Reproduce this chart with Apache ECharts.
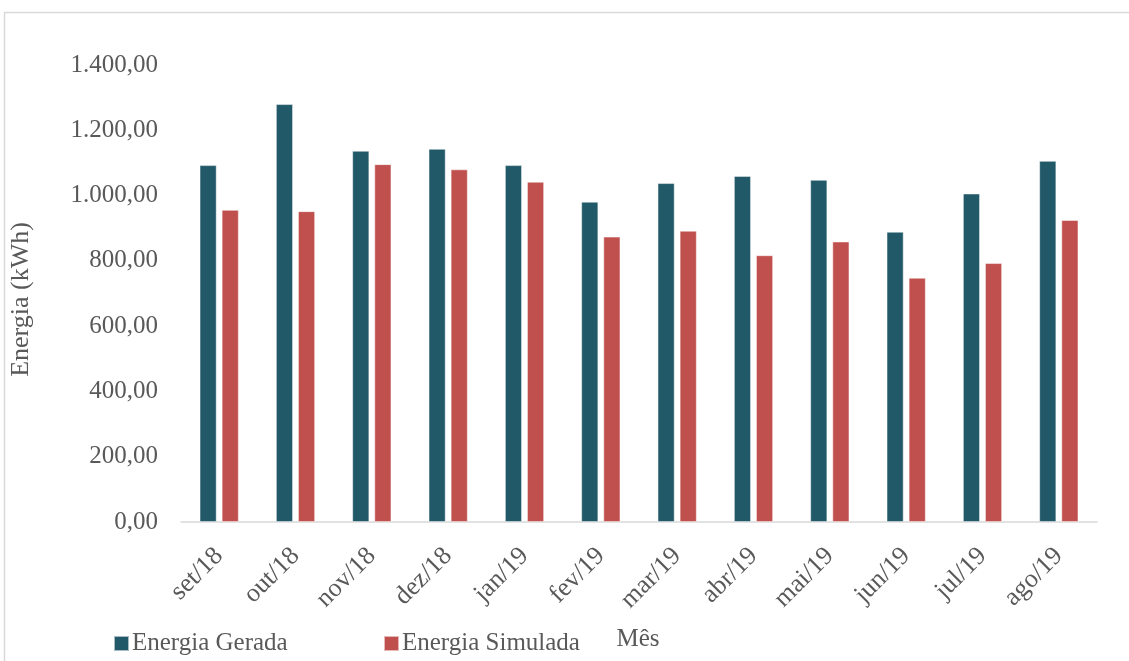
<!DOCTYPE html>
<html>
<head>
<meta charset="utf-8">
<script src="https://cdn.jsdelivr.net/npm/echarts@6/dist/echarts.min.js"></script>
<style>
  html, body { margin: 0; padding: 0; background: #ffffff; overflow: hidden; }
  #chart { width: 1129px; height: 661px; }
</style>
</head>
<body>
<div id="chart"></div>
<script>
// Monthly energy: generated vs simulated (kWh)
const months = ['set/18', 'out/18', 'nov/18', 'dez/18', 'jan/19', 'fev/19',
                'mar/19', 'abr/19', 'mai/19', 'jun/19', 'jul/19', 'ago/19'];
const energiaGerada   = [1093, 1280, 1137, 1143, 1093, 981, 1038, 1060, 1048, 889, 1006, 1106];
const energiaSimulada = [956, 952, 1096, 1080, 1042, 874, 892, 817, 859, 748, 793, 925];
const yTicks = { min: 0, max: 1400, interval: 200 };

const FONT = '"Liberation Serif", "DejaVu Serif", serif';
const TEXT = '#595959';

// pt-BR number format: 1.400,00
function fmt(v) {
  const parts = Number(v).toFixed(2).split('.');
  parts[0] = parts[0].replace(/\B(?=(\d{3})+(?!\d))/g, '.');
  return parts.join(',');
}

const chart = echarts.init(document.getElementById('chart'), null, { renderer: 'canvas' });

chart.setOption({
  backgroundColor: '#ffffff',
  animation: false,
  textStyle: { fontFamily: FONT, color: TEXT },
  graphic: [{
    type: 'rect',
    shape: { x: 4.5, y: 12.5, width: 1140, height: 700 },
    style: { fill: 'none', stroke: '#D9D9D9', lineWidth: 1.5 },
    silent: true
  }],
  grid: {
    left: 181, right: 32, top: 65, bottom: 139,
    containLabel: false,
    outerBoundsMode: 'none'
  },
  legend: [{
    data: ['Energia Gerada'],
    left: 108, top: 626,
    itemWidth: 15, itemHeight: 15, itemGap: 4,
    icon: 'rect',
    textStyle: { fontFamily: FONT, fontSize: 25, color: TEXT, padding: [0, 0, 0, -2] }
  }, {
    data: ['Energia Simulada'],
    left: 378, top: 626,
    itemWidth: 15, itemHeight: 15, itemGap: 4,
    icon: 'rect',
    textStyle: { fontFamily: FONT, fontSize: 25, color: TEXT, padding: [0, 0, 0, -2] }
  }],
  xAxis: {
    type: 'category',
    data: months,
    name: 'Mês',
    nameLocation: 'middle',
    nameGap: 105,
    nameTextStyle: { fontFamily: FONT, fontSize: 25, color: TEXT, padding: [0, 0, 0, -2] },
    axisLine: { lineStyle: { color: '#D9D9D9', width: 1.5 } },
    axisTick: { show: false },
    axisLabel: {
      rotate: 45, margin: 30, interval: 0,
      fontFamily: FONT, fontSize: 26, color: TEXT
    }
  },
  yAxis: {
    type: 'value',
    min: yTicks.min, max: yTicks.max, interval: yTicks.interval,
    name: 'Energia (kWh)',
    nameLocation: 'middle',
    nameGap: 147,
    nameRotate: 90,
    nameTextStyle: { fontFamily: FONT, fontSize: 26, color: TEXT, padding: [0, 12, 0, 0] },
    axisLine: { show: false },
    axisTick: { show: false },
    splitLine: { show: false },
    axisLabel: {
      margin: 23,
      fontFamily: FONT, fontSize: 25, color: TEXT,
      formatter: fmt
    }
  },
  series: [{
    name: 'Energia Gerada',
    type: 'bar',
    data: energiaGerada,
    barWidth: 17,
    barGap: '30%',
    itemStyle: { color: '#215968', borderColor: 'rgba(255,255,255,0.6)', borderWidth: 0.8 }
  }, {
    name: 'Energia Simulada',
    type: 'bar',
    data: energiaSimulada,
    barWidth: 17,
    itemStyle: { color: '#C0504D', borderColor: 'rgba(255,255,255,0.6)', borderWidth: 0.8 }
  }]
});
</script>
</body>
</html>
